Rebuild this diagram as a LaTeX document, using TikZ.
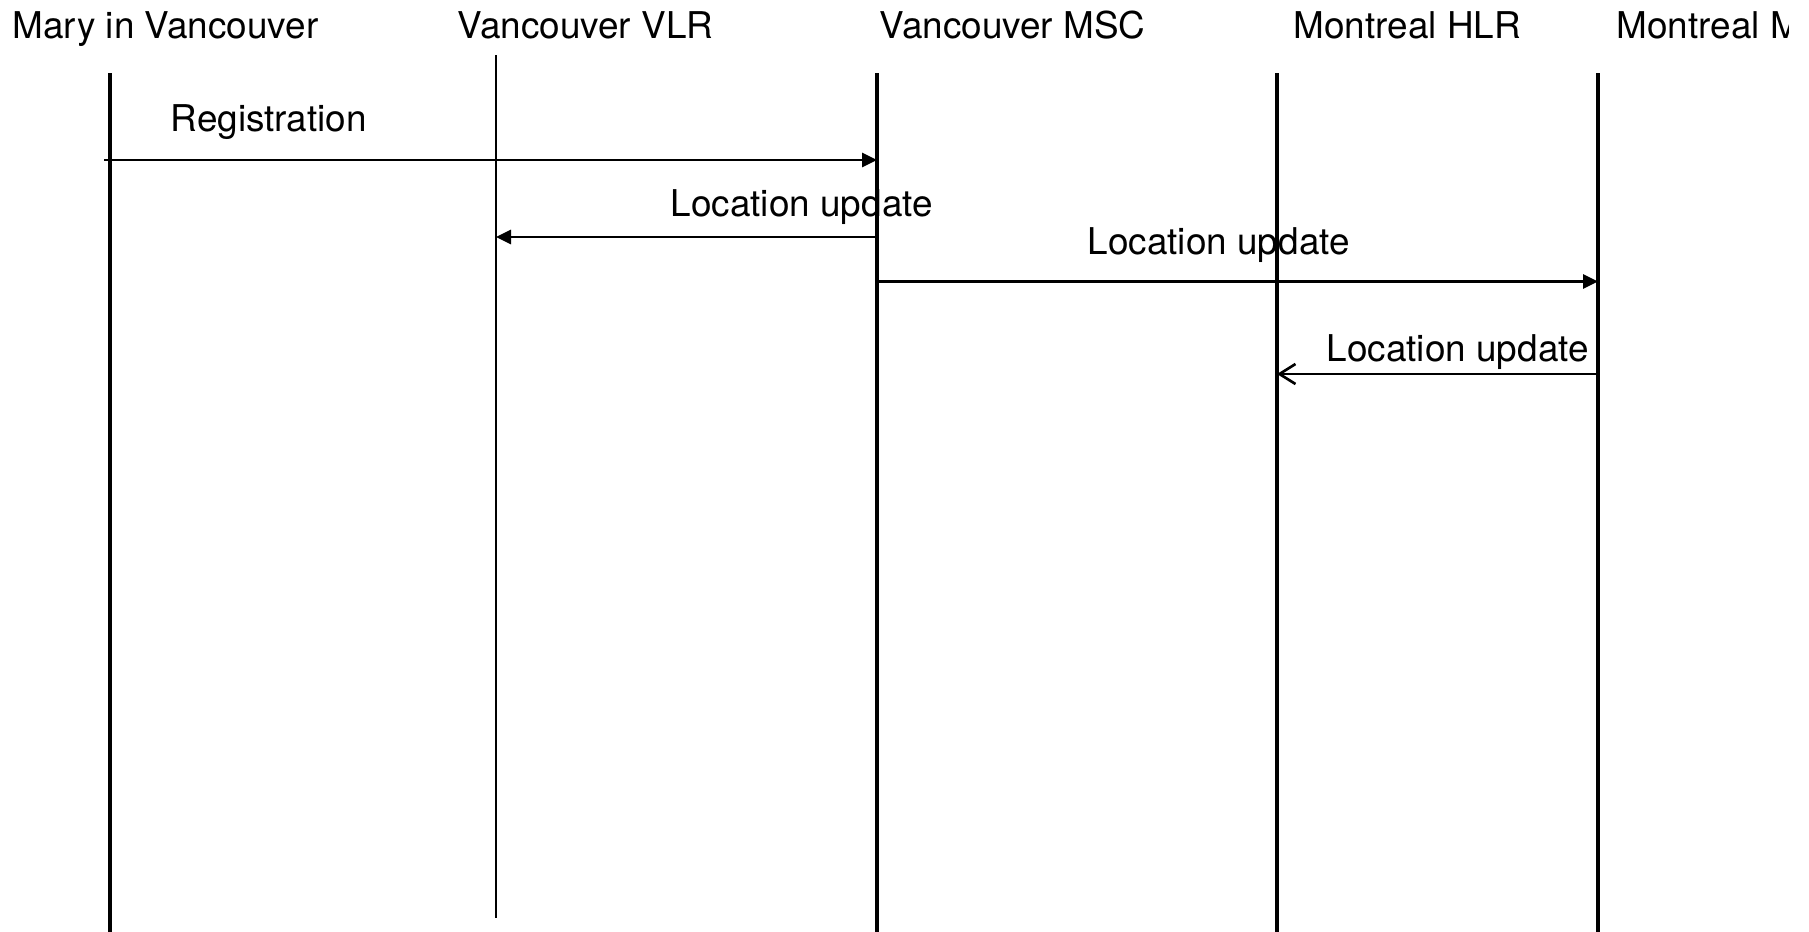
\documentclass[tikz,border=0pt]{standalone}
\usepackage{fontspec}
\setmainfont{TeX Gyre Heros}
\usetikzlibrary{arrows.meta}

\begin{document}
\begin{tikzpicture}[
    actor/.style={anchor=base west, inner sep=0pt, font=\fontsize{10.5}{12}\selectfont},
    msg text/.style={anchor=base west, inner sep=0pt, font=\fontsize{10.5}{12}\selectfont},
    life/.style={line width=0.95pt},
    thin life/.style={line width=0.5pt},
    msg/.style={line width=0.75pt, -{Triangle[length=1.5mm,width=1.4mm]}},
    reply/.style={line width=0.75pt, -{Straight Barb[length=1.6mm,width=2.0mm]}}
    ]
    \useasboundingbox (0,0) rectangle (18.09,-9.32);
    \clip (0,0) rectangle (17.88,-9.32);

    \node[actor] (mary) at (0.12,-0.38) {Mary in Vancouver};
    \node[actor] (vlr) at (4.57,-0.38) {Vancouver VLR};
    \node[actor] (msc) at (8.79,-0.38) {Vancouver MSC};
    \node[actor] (hlr) at (12.93,-0.38) {Montreal HLR};
    \node[actor] (mmsc) at (16.16,-0.38) {Montreal MSC};

    \coordinate (mary top) at (1.10,-0.73);
    \coordinate (mary bot) at (1.10,-9.32);
    \coordinate (vlr top) at (4.96,-0.55);
    \coordinate (vlr bot) at (4.96,-9.18);
    \coordinate (msc top) at (8.77,-0.73);
    \coordinate (msc bot) at (8.77,-9.32);
    \coordinate (hlr top) at (12.77,-0.73);
    \coordinate (hlr bot) at (12.77,-9.32);
    \coordinate (mmsc top) at (15.98,-0.73);
    \coordinate (mmsc bot) at (15.98,-9.32);

    \draw[life] (mary top) -- (mary bot);
    \draw[thin life] (vlr top) -- (vlr bot);
    \draw[life] (msc top) -- (msc bot);
    \draw[life] (hlr top) -- (hlr bot);
    \draw[life] (mmsc top) -- (mmsc bot);

    \coordinate (reg start) at (1.04,-1.60);
    \coordinate (reg end) at (8.77,-1.60);
    \coordinate (lu1 start) at (8.77,-2.37);
    \coordinate (lu1 end) at (4.96,-2.37);
    \coordinate (lu2 start) at (8.77,-2.815);
    \coordinate (lu2 end) at (15.98,-2.815);
    \coordinate (lu3 start) at (15.98,-3.74);
    \coordinate (lu3 end) at (12.77,-3.74);

    \node[msg text] (reg) at (1.70,-1.315) {Registration};
    \draw[msg] (reg start) -- (reg end);

    \node[msg text] (lu1) at (6.70,-2.16) {Location update};
    \draw[msg] (lu1 start) -- (lu1 end);

    \node[msg text] (lu2) at (10.87,-2.54) {Location update};
    \draw[msg] (lu2 start) -- (lu2 end);

    \node[msg text] (lu3) at (13.26,-3.61) {Location update};
    \draw[reply] (lu3 start) -- (lu3 end);
\end{tikzpicture}
\end{document}
